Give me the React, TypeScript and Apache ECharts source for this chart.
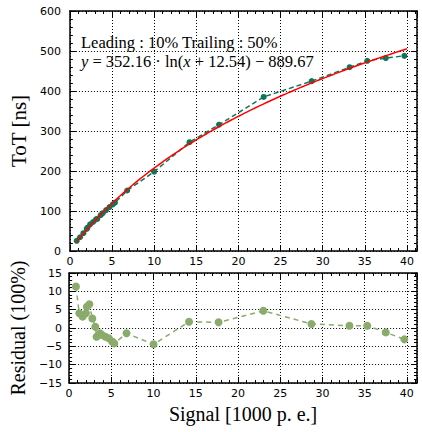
import React, { useEffect, useRef } from 'react';
import * as echarts from 'echarts';

const signal = [0.81, 1.2, 1.6, 2.0, 2.1, 2.4, 2.75, 3.1, 3.25, 3.65, 3.9, 4.3, 4.7, 5.1, 5.35, 6.8, 10.0, 14.2, 17.7, 23.0, 28.7, 33.2, 35.3, 37.5, 39.7];
const tot = [25.5, 34.4, 44.5, 55.1, 58.6, 66.7, 72.5, 79.0, 80.1, 89.6, 94.5, 102.2, 109.8, 116.6, 120.7, 151.3, 198.2, 272.0, 315.7, 385.1, 424.7, 459.5, 475.4, 482.4, 487.8];
const residual = [11.3, 4.0, 3.1, 4.0, 5.8, 6.5, 2.6, 0.35, -2.4, -1.45, -1.9, -2.4, -2.8, -3.7, -4.2, -1.45, -4.45, 1.7, 1.55, 4.7, 1.1, 0.63, 0.63, -1.2, -3.1];
// Fit stated on the chart: y = 352.16 * ln(x + 12.54) - 889.67
const fitA = 352.16;
const fitB = 12.54;
const fitC = 889.67;
const fitRange = [0.81, 40];

const xTicks = { min: 0, max: 41.2, interval: 5 };
const topY = { min: 0, max: 600, interval: 100 };
const botY = { min: -15, max: 15, interval: 5 };

const serif = 'Liberation Serif';
const tickFont = { fontFamily: 'DejaVu Sans', fontSize: 11, color: '#000' };

function axisCommon(showSplit: boolean) {
  return {
    axisLine: { show: true, onZero: false, lineStyle: { color: '#000', width: 1.5 } },
    axisTick: { show: true, inside: true, length: 6, lineStyle: { color: '#000', width: 1 } },
    minorTick: { show: true, splitNumber: 5, length: 3, lineStyle: { color: '#000', width: 1 } },
    splitLine: { show: showSplit, lineStyle: { color: '#000', width: 1, type: [1, 2] } },
    minorSplitLine: { show: false },
  };
}

export default function App() {
  const ref = useRef<HTMLDivElement>(null);
  useEffect(() => {
    if (!ref.current) return;
    const chart = echarts.init(ref.current, undefined, { renderer: 'svg' });
    const n = 120;
    const fit: number[][] = [];
    for (let i = 0; i <= n; i++) {
      const x = fitRange[0] + (fitRange[1] - fitRange[0]) * (i / n);
      fit.push([x, fitA * Math.log(x + fitB) - fitC]);
    }
    const xLabel = (showLabel: boolean) => ({
      show: showLabel,
      ...tickFont,
      margin: 5,
      formatter: (v: number) => (Math.abs(v % 5) < 1e-9 ? String(v) : ''),
    });
    const option: any = {
      animation: false,
      backgroundColor: '#fff',
      grid: [
        { left: 63, top: 11, width: 354, height: 240 },
        { left: 63, top: 273, width: 354, height: 110 },
      ],
      xAxis: [
        { type: 'value', gridIndex: 0, position: 'bottom', ...xTicks, ...axisCommon(true), axisLabel: xLabel(true) },
        { type: 'value', gridIndex: 0, position: 'top', ...xTicks, ...axisCommon(false), axisLabel: { show: false } },
        {
          type: 'value', gridIndex: 1, position: 'bottom', ...xTicks, ...axisCommon(true), axisLabel: xLabel(true),
          name: 'Signal [1000 p. e.]', nameLocation: 'middle', nameGap: 21,
          nameTextStyle: { fontFamily: serif, fontSize: 20, color: '#000' },
        },
        { type: 'value', gridIndex: 1, position: 'top', ...xTicks, ...axisCommon(false), axisLabel: { show: false } },
      ],
      yAxis: [
        {
          type: 'value', gridIndex: 0, position: 'left', ...topY, ...axisCommon(true),
          axisLabel: { ...tickFont, margin: 9 },
          name: 'ToT [ns]', nameLocation: 'middle', nameGap: 31,
          nameTextStyle: { fontFamily: serif, fontSize: 21, color: '#000' },
        },
        { type: 'value', gridIndex: 0, position: 'right', ...topY, ...axisCommon(false), axisLabel: { show: false } },
        {
          type: 'value', gridIndex: 1, position: 'left', ...botY, ...axisCommon(true),
          axisLabel: { ...tickFont, margin: 7, formatter: (v: number) => String(v).replace('-', '\u2212') },
          name: 'Residual (100%)', nameLocation: 'middle', nameGap: 31,
          nameTextStyle: { fontFamily: serif, fontSize: 20, color: '#000' },
        },
        { type: 'value', gridIndex: 1, position: 'right', ...botY, ...axisCommon(false), axisLabel: { show: false } },
      ],
      series: [
        {
          type: 'line', xAxisIndex: 0, yAxisIndex: 0,
          data: signal.map((x, i) => [x, tot[i]]),
          symbol: 'circle', symbolSize: 6,
          itemStyle: { color: '#107558' },
          lineStyle: { color: '#107558', width: 1.5, type: [5, 3] },
          z: 3,
        },
        {
          type: 'line', xAxisIndex: 0, yAxisIndex: 0,
          data: fit, showSymbol: false, symbol: 'none',
          lineStyle: { color: '#ff0000', width: 1.5 },
          z: 4,
        },
        {
          type: 'line', xAxisIndex: 2, yAxisIndex: 2,
          data: signal.map((x, i) => [x, residual[i]]),
          symbol: 'circle', symbolSize: 8,
          itemStyle: { color: '#8aab6c' },
          lineStyle: { color: '#8aab6c', width: 1.5, type: [5, 4] },
        },
      ],
      graphic: [
        {
          type: 'text', left: 81, top: 34,
          style: { text: 'Leading : 10% Trailing : 50%', fontFamily: serif, fontSize: 16.5, fill: '#000' },
          z: 10,
        },
        {
          type: 'text', left: 81, top: 53,
          style: {
            text: '{i|y} = 352.16 \u00b7 ln({i|x} + 12.54) \u2212 889.67',
            fontFamily: serif, fontSize: 16.5, fill: '#000',
            rich: { i: { fontStyle: 'italic', fontFamily: serif, fontSize: 16.5 } },
          },
          z: 10,
        },
      ],
    };
    chart.setOption(option);
    return () => chart.dispose();
  }, []);
  return <div ref={ref} style={{ position: 'fixed', left: 0, top: 0, width: 422, height: 432 }} />;
}
